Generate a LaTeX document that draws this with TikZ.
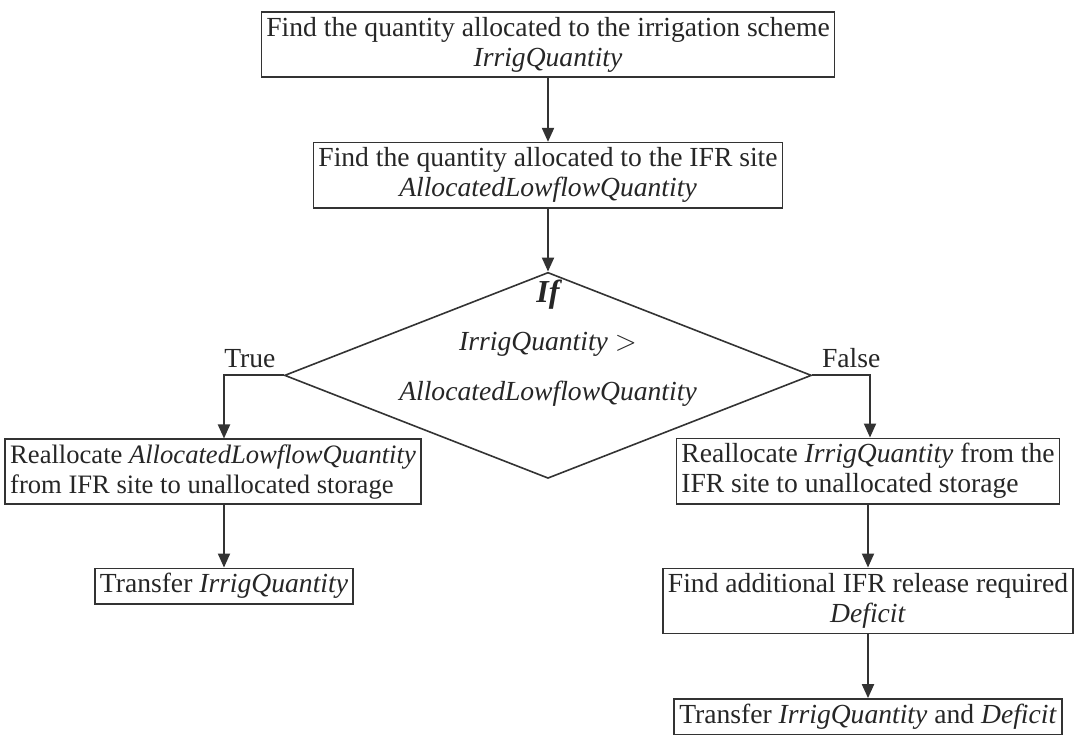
\documentclass[tikz,border=0pt]{standalone}
\usepackage{fontspec}
\setmainfont{Liberation Serif}
\usetikzlibrary{shapes.geometric,arrows.meta,positioning}

\begin{document}
\begin{tikzpicture}[x=0.5pt,y=-0.5pt,>={Triangle[length=7pt,width=6pt]},
  box/.style={draw=black!80,line width=0.8pt,inner xsep=2.5pt,inner ysep=2.5pt,text=black!85,font=\fontsize{13.8}{15}\selectfont},
  arr/.style={->,draw=black!80,line width=1pt},
  lbl/.style={text=black!85,font=\fontsize{13.8}{15}\selectfont}]
\useasboundingbox[fill=white] (0,0) rectangle (1077,735);
% main column
\node[box,align=center] (irrig) at (548,44.5) {Find the quantity allocated to the irrigation scheme\\ \textit{IrrigQuantity}};
\node[box,align=center,below=32pt of irrig] (ifr) {Find the quantity allocated to the IFR site\\ \textit{AllocatedLowflowQuantity}};
\node[diamond,draw=black!80,line width=0.8pt,minimum width=263.5pt,minimum height=103pt,inner sep=0pt,below=31.5pt of ifr] (dia) {};
\node[lbl,align=center] (cond) at ([yshift=16pt]dia.center) {{\fontsize{16}{16}\selectfont\bfseries\itshape If}\\[9pt] \textit{IrrigQuantity} $>$\\[10pt] \textit{AllocatedLowflowQuantity}};
% true branch
\node[box,align=left,font=\fontsize{13.3}{15}\selectfont] (lbox) at (213,471.5) {Reallocate \textit{AllocatedLowflowQuantity}\\ from IFR site to unallocated storage};
\node[box,below=31.5pt of lbox,xshift=5.5pt] (tr) {Transfer \textit{IrrigQuantity}};
% false branch
\node[box,align=left] (rbox) at (868,471) {Reallocate \textit{IrrigQuantity} from the\\ IFR site to unallocated storage};
\node[box,align=center,below=31.5pt of rbox] (def) {Find additional IFR release required\\ \textit{Deficit}};
\node[box,below=32pt of def] (trd) {Transfer \textit{IrrigQuantity} and \textit{Deficit}};
\draw[arr] (irrig) -- (ifr);
\draw[arr] (ifr) -- (dia);
\draw[arr] (dia.west) -| node[lbl,pos=0.25,above,xshift=-2pt] (yes) {True} (tr.north |- lbox.north);
\draw[arr] (dia.east) -| node[lbl,pos=0.25,above,xshift=5pt] (no) {False} ([xshift=1pt]rbox.north);
\draw[arr] (tr.north |- lbox.south) -- (tr);
\draw[arr] (rbox) -- (def);
\draw[arr] (def) -- (trd);
\end{tikzpicture}
\end{document}
